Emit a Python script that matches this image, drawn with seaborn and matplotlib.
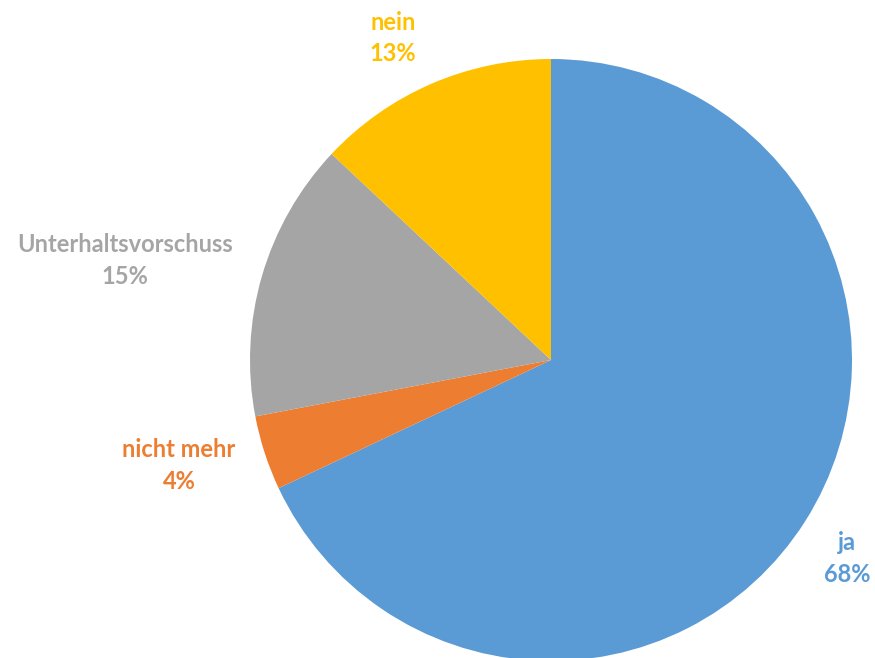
import matplotlib
matplotlib.use("Agg")
import matplotlib.pyplot as plt
import seaborn as sns

# Data
labels = ["ja", "nicht mehr", "Unterhaltsvorschuss", "nein"]
shares = [68, 4, 15, 13]
colors = ["#5B9BD5", "#ED7D31", "#A5A5A5", "#FFC000"]

# label anchor positions (axes data units, pie radius = 1)
label_pos = [(0.983, -0.66), (-1.236, -0.35), (-1.415, 0.33), (-0.525, 1.07)]

sns.set_style("white")
plt.rcParams['font.family'] = ['Lato', 'DejaVu Sans']

fig = plt.figure(figsize=(8.75, 6.58), dpi=100)
ax = fig.add_axes([250 / 875, -3 / 658, 602 / 875, 602 / 658])

palette = sns.color_palette(colors)
ax.pie(shares, colors=palette, startangle=90, counterclock=False,
       radius=1.0, wedgeprops={'linewidth': 0})

for lab, val, col, (x, y) in zip(labels, shares, palette, label_pos):
    ax.text(x, y, lab + "\n" + str(val) + "%", color=col, fontsize=17,
            fontweight='bold', ha='center', va='center', linespacing=1.45)

ax.set_xlim(-1, 1)
ax.set_ylim(-1, 1)
ax.set_aspect('equal')
ax.axis('off')

plt.savefig("out.png", dpi=100)
